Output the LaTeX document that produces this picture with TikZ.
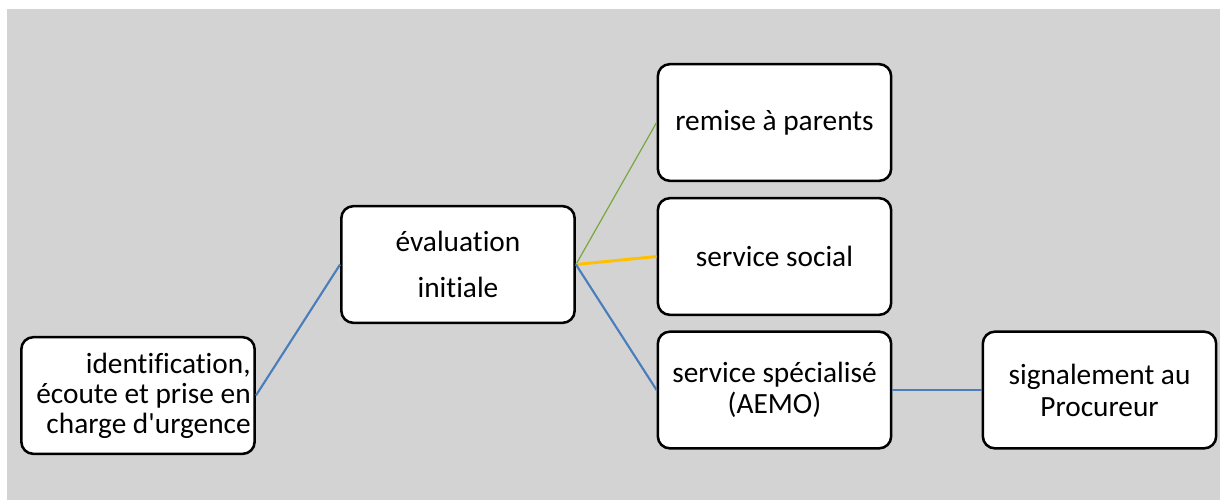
\documentclass[tikz,border=0pt]{standalone}
\usepackage{fontspec}
\setmainfont{Carlito}[Ligatures={NoCommon,NoContextual}]
\definecolor{bggray}{HTML}{D3D3D3}
\definecolor{lnblue}{HTML}{4A7EBB}
\definecolor{lngreen}{HTML}{77A83F}
\definecolor{lnorange}{HTML}{FFC000}
\tikzset{
  box/.style={draw=black, line width=1.9pt, rounded corners=9pt, fill=white,
    minimum width=175pt, minimum height=87.5pt, inner sep=3pt,
    font=\fontsize{22}{23.5}\selectfont, align=center},
  bluelink/.style={draw=lnblue, line width=1.6pt},
  greenlink/.style={draw=lngreen, line width=0.9pt},
  orangelink/.style={draw=lnorange, line width=2.2pt},
}
\begin{document}
\begin{tikzpicture}[x=0.75pt,y=-0.75pt]
\useasboundingbox (0,0) rectangle (1220,500);
\fill[bggray] (7,9) rectangle (1220,500);
\node[box, align=flush right, text width=169pt, font=\fontsize{22}{22.5}\selectfont] (ident) at (138,395.5) {identification,\\écoute et prise en\\charge d\textquotesingle urgence};
\node[box, font=\fontsize{22}{34}\selectfont] (eval) at (458,264.5) {évaluation\\initiale};
\node[box] (remise) at (774.5,122.5) {remise à parents};
\node[box] (social) at (774.5,256.5) {service social};
\node[box] (spec) at (774.5,390) {service spécialisé\\(AEMO)};
\node[box, font=\fontsize{22}{24}\selectfont] (signal) at (1099.5,390) {signalement au\\Procureur};
\draw[bluelink] (ident.east) -- (eval.west);
\draw[greenlink] (eval.east) -- (remise.west);
\draw[orangelink] (eval.east) -- (social.west);
\draw[bluelink] (eval.east) -- (spec.west);
\draw[bluelink] (spec.east) -- (signal.west);
\end{tikzpicture}
\end{document}
